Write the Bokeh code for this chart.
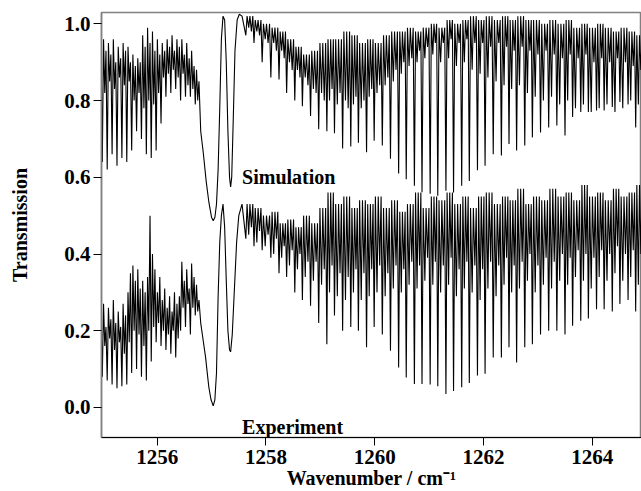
from bokeh.plotting import figure
from bokeh.models import Range1d, FixedTicker, Label, PrintfTickFormatter
from bokeh.embed import file_html
from bokeh.resources import INLINE

# ---------------- data ----------------
# dense, unresolved band below 1256.8 cm-1: dip positions, dip values, maxima between dips
band_dip_x = [1254.99, 1255.035, 1255.08, 1255.125, 1255.17, 1255.215, 1255.26, 1255.305, 1255.35, 1255.395,
              1255.44, 1255.485, 1255.53, 1255.575, 1255.62, 1255.665, 1255.71, 1255.755, 1255.80, 1255.845,
              1255.89, 1255.935, 1255.98, 1256.025, 1256.07, 1256.115, 1256.16, 1256.205, 1256.25, 1256.295,
              1256.34, 1256.385, 1256.43, 1256.475, 1256.52, 1256.565, 1256.61, 1256.655, 1256.70, 1256.745]
sim_band_dip = [0.64, 0.82, 0.62, 0.85, 0.66, 0.83, 0.63, 0.86, 0.65, 0.84,
                0.64, 0.85, 0.67, 0.80, 0.72, 0.82, 0.70, 0.78, 0.66, 0.80,
                0.65, 0.79, 0.67, 0.82, 0.74, 0.86, 0.81, 0.87, 0.82, 0.88,
                0.83, 0.86, 0.80, 0.87, 0.81, 0.84, 0.81, 0.83, 0.79, 0.80]
sim_band_top = [0.92, 0.96, 0.93, 0.95, 0.92, 0.96, 0.90, 0.94, 0.91, 0.95,
                0.93, 0.94, 0.90, 0.92, 0.89, 0.91, 0.90, 0.97, 0.94, 0.99,
                0.95, 0.98, 0.93, 0.96, 0.92, 0.95, 0.93, 0.96, 0.94, 0.97,
                0.93, 0.96, 0.94, 0.96, 0.92, 0.95, 0.91, 0.93, 0.89, 0.88, 0.85]
exp_band_dip = [0.08, 0.16, 0.07, 0.18, 0.06, 0.15, 0.05, 0.17, 0.055, 0.14,
                0.06, 0.17, 0.09, 0.20, 0.10, 0.19, 0.08, 0.16, 0.07, 0.20,
                0.12, 0.21, 0.17, 0.22, 0.16, 0.20, 0.15, 0.19, 0.14, 0.20,
                0.13, 0.18, 0.20, 0.26, 0.21, 0.27, 0.19, 0.26, 0.24, 0.25]
exp_band_top = [0.22, 0.27, 0.21, 0.26, 0.23, 0.28, 0.22, 0.25, 0.21, 0.27,
                0.24, 0.30, 0.35, 0.37, 0.33, 0.36, 0.31, 0.33, 0.30, 0.34,
                0.50, 0.40, 0.36, 0.30, 0.34, 0.28, 0.31, 0.26, 0.29, 0.25,
                0.30, 0.27, 0.29, 0.38, 0.33, 0.36, 0.31, 0.375, 0.34, 0.32, 0.28]

# the two broad features near 1257 cm-1
sim_mid_x = [1256.80, 1256.85, 1256.90, 1256.95, 1257.00, 1257.03, 1257.06, 1257.09, 1257.12, 1257.15,
             1257.18, 1257.21, 1257.24, 1257.27, 1257.30, 1257.33, 1257.35, 1257.37, 1257.40, 1257.43,
             1257.47, 1257.51, 1257.56]
sim_mid_y = [0.72, 0.66, 0.59, 0.535, 0.495, 0.487, 0.495, 0.53, 0.62, 0.78,
             0.96, 1.02, 1.01, 0.90, 0.72, 0.60, 0.575, 0.60, 0.76, 0.93,
             1.01, 1.025, 1.02]
exp_mid_x = [1256.80, 1256.85, 1256.89, 1256.92, 1256.95, 1256.99, 1257.03, 1257.06, 1257.09, 1257.12,
             1257.15, 1257.18, 1257.21, 1257.24, 1257.27, 1257.30, 1257.33, 1257.35, 1257.38, 1257.42,
             1257.46, 1257.50, 1257.56]
exp_mid_y = [0.22, 0.17, 0.13, 0.09, 0.052, 0.02, 0.004, 0.02, 0.09, 0.29,
             0.43, 0.50, 0.53, 0.47, 0.33, 0.20, 0.15, 0.145, 0.19, 0.31,
             0.43, 0.50, 0.53]

# resolved rotational lines above 1257.5 cm-1
line_x = [1257.63, 1257.78, 1257.93, 1258.09, 1258.24, 1258.38, 1258.53, 1258.67, 1258.82, 1258.97,
          1259.12, 1259.26, 1259.41, 1259.56, 1259.70, 1259.85, 1259.99, 1260.14, 1260.29, 1260.44,
          1260.58, 1260.73, 1260.87, 1261.02, 1261.16, 1261.31, 1261.45, 1261.60, 1261.74, 1261.89,
          1262.03, 1262.18, 1262.33, 1262.47, 1262.61, 1262.76, 1262.90, 1263.05, 1263.20, 1263.35,
          1263.50, 1263.64, 1263.79, 1263.93, 1264.08, 1264.22, 1264.37, 1264.51, 1264.66, 1264.80]
sim_line_min = [0.97, 0.95, 0.90, 0.86, 0.855, 0.82, 0.80, 0.785, 0.76, 0.725,
                0.72, 0.715, 0.675, 0.68, 0.69, 0.665, 0.695, 0.683, 0.648, 0.61,
                0.595, 0.578, 0.561, 0.557, 0.552, 0.565, 0.56, 0.578, 0.59, 0.618,
                0.63, 0.66, 0.657, 0.687, 0.67, 0.683, 0.704, 0.717, 0.73, 0.735,
                0.709, 0.757, 0.77, 0.77, 0.774, 0.774, 0.783, 0.796, 0.79, 0.73]
sim_line_top = [1.02, 1.01, 1.00, 0.99, 0.98, 0.96, 0.94, 0.92, 0.93, 0.95,
                0.96, 0.96, 0.98, 0.97, 0.95, 0.96, 0.95, 0.97, 0.98, 0.98,
                0.99, 0.98, 0.99, 1.00, 0.99, 1.01, 1.00, 1.01, 1.02, 1.01,
                1.02, 1.01, 1.02, 1.01, 1.02, 1.01, 1.01, 1.00, 1.01, 1.00,
                1.01, 0.99, 1.00, 0.99, 1.00, 0.99, 0.98, 0.99, 0.98, 0.97]
sim_sec_a = [0.99, 0.98, 0.96, 0.95, 0.93, 0.90, 0.88, 0.86, 0.83, 0.82,
             0.80, 0.79, 0.80, 0.79, 0.78, 0.81, 0.82, 0.84, 0.85, 0.87,
             0.89, 0.90, 0.91, 0.92, 0.90, 0.91, 0.89, 0.90, 0.88, 0.87,
             0.86, 0.85, 0.84, 0.83, 0.84, 0.82, 0.81, 0.80, 0.81, 0.79,
             0.80, 0.78, 0.79, 0.77, 0.78, 0.79, 0.77, 0.78, 0.80, 0.79]
sim_sec_b = [0.98, 0.97, 0.95, 0.93, 0.91, 0.88, 0.86, 0.84, 0.82, 0.80,
             0.83, 0.82, 0.78, 0.81, 0.80, 0.83, 0.84, 0.86, 0.88, 0.90,
             0.91, 0.93, 0.94, 0.95, 0.95, 0.96, 0.95, 0.96, 0.95, 0.95,
             0.94, 0.95, 0.94, 0.93, 0.94, 0.93, 0.92, 0.93, 0.92, 0.91,
             0.92, 0.91, 0.92, 0.90, 0.91, 0.90, 0.91, 0.90, 0.89, 0.88]
exp_line_min = [0.44, 0.42, 0.41, 0.39, 0.35, 0.34, 0.30, 0.28, 0.265, 0.22,
                0.165, 0.24, 0.20, 0.21, 0.20, 0.157, 0.21, 0.19, 0.148, 0.104,
                0.078, 0.061, 0.061, 0.06, 0.055, 0.035, 0.043, 0.053, 0.064, 0.083,
                0.088, 0.13, 0.13, 0.157, 0.117, 0.157, 0.165, 0.19, 0.20, 0.20,
                0.19, 0.213, 0.226, 0.232, 0.256, 0.256, 0.25, 0.27, 0.28, 0.25]
exp_line_top = [0.53, 0.52, 0.50, 0.51, 0.48, 0.49, 0.47, 0.50, 0.48, 0.52,
                0.56, 0.53, 0.55, 0.52, 0.54, 0.53, 0.55, 0.52, 0.54, 0.51,
                0.53, 0.56, 0.52, 0.55, 0.54, 0.56, 0.53, 0.55, 0.52, 0.55,
                0.56, 0.53, 0.55, 0.54, 0.57, 0.53, 0.55, 0.54, 0.57, 0.55,
                0.56, 0.54, 0.58, 0.55, 0.56, 0.54, 0.57, 0.55, 0.56, 0.58]
exp_sec_a = [0.45, 0.43, 0.42, 0.40, 0.39, 0.37, 0.36, 0.34, 0.33, 0.32,
             0.30, 0.29, 0.28, 0.30, 0.28, 0.29, 0.30, 0.29, 0.31, 0.30,
             0.32, 0.31, 0.33, 0.32, 0.30, 0.32, 0.29, 0.31, 0.30, 0.28,
             0.31, 0.29, 0.32, 0.30, 0.31, 0.33, 0.30, 0.32, 0.31, 0.33,
             0.32, 0.34, 0.33, 0.31, 0.34, 0.33, 0.35, 0.33, 0.34, 0.32]
exp_sec_b = [0.47, 0.46, 0.45, 0.44, 0.42, 0.41, 0.40, 0.38, 0.38, 0.36,
             0.37, 0.35, 0.34, 0.36, 0.35, 0.36, 0.37, 0.35, 0.37, 0.36,
             0.38, 0.37, 0.39, 0.38, 0.37, 0.39, 0.36, 0.38, 0.37, 0.36,
             0.38, 0.37, 0.39, 0.37, 0.38, 0.40, 0.37, 0.39, 0.38, 0.40,
             0.39, 0.41, 0.40, 0.39, 0.41, 0.40, 0.42, 0.40, 0.41, 0.40]

x_ticks = [1256, 1258, 1260, 1262, 1264]
y_ticks = [0.0, 0.2, 0.4, 0.6, 0.8, 1.0]
series_names = ["Simulation", "Experiment"]
x_title = "Wavenumber / cm\u207b\u00b9"
y_title = "Transmission"

# ---------------- build the drawn traces ----------------
def band_path(dx, dips, tops):
    xs, ys = [], []
    n = len(dx)
    for i in range(n + 1):
        if i == 0:
            tx = dx[0] - (dx[1] - dx[0]) / 2
        elif i == n:
            tx = dx[-1] + (dx[-1] - dx[-2]) / 2
        else:
            tx = (dx[i - 1] + dx[i]) / 2
        xs.append(tx); ys.append(tops[i])
        if i < n:
            xs.append(dx[i]); ys.append(dips[i])
    return xs, ys


def line_path(lx, mins, tops, sa, sb):
    xs, ys = [], []
    n = len(lx)
    for i in range(n):
        d = (lx[i + 1] - lx[i]) if i + 1 < n else (lx[i] - lx[i - 1])
        for f, v in ((0.0, mins[i]), (0.15, tops[i]), (0.35, sa[i]), (0.5, tops[i]),
                     (0.68, sb[i]), (0.85, tops[i])):
            xs.append(lx[i] + f * d); ys.append(v)
    return xs, ys


def trace(band_dip, band_top, mid_x, mid_y, lmin, ltop, sa, sb):
    bx, by = band_path(band_dip_x, band_dip, band_top)
    rx, ry = line_path(line_x, lmin, ltop, sa, sb)
    return bx + mid_x + rx, by + mid_y + ry


sim_x, sim_y = trace(sim_band_dip, sim_band_top, sim_mid_x, sim_mid_y,
                     sim_line_min, sim_line_top, sim_sec_a, sim_sec_b)
exp_x, exp_y = trace(exp_band_dip, exp_band_top, exp_mid_x, exp_mid_y,
                     exp_line_min, exp_line_top, exp_sec_a, exp_sec_b)

# ---------------- figure ----------------
FONT = "Liberation Serif"
p = figure(width=641, height=491, output_backend="svg", toolbar_location=None,
           x_range=Range1d(1254.975, 1264.907), y_range=Range1d(-0.0783, 1.0295),
           min_border_left=101, min_border_right=0, min_border_top=12, min_border_bottom=54)
p.background_fill_color = "white"
p.border_fill_color = "white"
p.outline_line_color = "#808080"
p.outline_line_width = 1.5
p.xgrid.visible = False
p.ygrid.visible = False

p.line(sim_x, sim_y, line_color="black", line_width=1.1)
p.line(exp_x, exp_y, line_color="black", line_width=1.1)

for ax in (p.xaxis[0], p.yaxis[0]):
    ax.major_tick_in = 0
    ax.major_tick_out = 8
    ax.minor_tick_in = 0
    ax.minor_tick_out = 0
    ax.major_tick_line_color = "black"
    ax.major_label_text_font = FONT
    ax.major_label_text_font_style = "bold"
    ax.major_label_text_font_size = "21px"
    ax.major_label_text_color = "black"
    ax.major_label_standoff = 3
    ax.axis_label_text_font = FONT
    ax.axis_label_text_font_style = "bold"
    ax.axis_label_text_font_size = "20px"
    ax.axis_label_text_color = "black"

p.xaxis.ticker = FixedTicker(ticks=x_ticks)
p.yaxis.ticker = FixedTicker(ticks=y_ticks)
p.yaxis.formatter = PrintfTickFormatter(format="%.1f")
p.xaxis.formatter = PrintfTickFormatter(format="%d")
p.xaxis.axis_line_color = "black"
p.yaxis.axis_line_color = "#808080"
p.yaxis.axis_line_width = 1.5
p.xaxis.major_label_standoff = 4

p.yaxis.axis_label = y_title
p.yaxis.axis_label_standoff = 30
p.xaxis.axis_label = x_title
p.xaxis.axis_label_standoff = 0
p.xaxis.axis_label_text_line_height = 0.9

for name, yv in ((series_names[0], 0.602), (series_names[1], -0.052)):
    p.add_layout(Label(x=1257.56, y=yv, text=name, text_font=FONT, text_font_style="bold",
                       text_font_size="20px", text_color="black", text_align="left",
                       text_baseline="alphabetic"))

open("out.html", "w").write(file_html(p, INLINE))
